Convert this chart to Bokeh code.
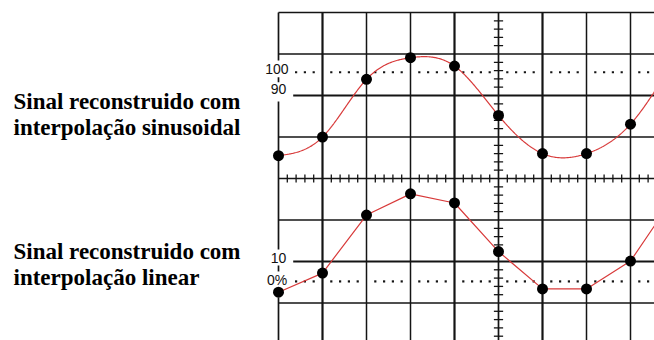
import numpy as np
from bokeh.plotting import figure
from bokeh.models import Range1d
from bokeh.embed import file_html
from bokeh.resources import INLINE
from bokeh.core.properties import value

# Sampling instants, in horizontal divisions from the screen centre
sample_div = [-5, -4, -3, -2, -1, 0, 1, 2, 3, 4]
# Upper trace: samples reconstructed with sinusoidal interpolation (vertical divisions)
sin_trace = [0.55, 1.00, 2.39, 2.91, 2.71, 1.52, 0.60, 0.60, 1.31, 2.88]
# Lower trace: same samples joined by straight segments (vertical divisions)
lin_trace = [-2.74, -2.28, -0.88, -0.37, -0.59, -1.76, -2.66, -2.66, -1.99, -0.43]

# Rise-time reference levels of the graticule and their labels
level_labels = ["100", "90", "10", "0%"]
level_div = [2.56, 2.0, -2.0, -2.48]

trace_titles = [
    ["Sinal reconstruido com", "interpolação sinusoidal"],
    ["Sinal reconstruido com", "interpolação linear"],
]

PX_X = 44.0   # pixels per horizontal division
PX_Y = 41.5   # pixels per vertical division
W, H = 654, 340
X0, Y0 = 498, 178  # screen centre in pixels

x_lo, x_hi = -X0 / PX_X, (W - X0) / PX_X
y_lo, y_hi = -(H - Y0) / PX_Y, Y0 / PX_Y

p = figure(width=W, height=H, x_range=Range1d(x_lo, x_hi), y_range=Range1d(y_lo, y_hi),
           output_backend="svg", toolbar_location=None, min_border=0,
           x_axis_type=None, y_axis_type=None)
p.grid.visible = False
p.outline_line_color = None
p.background_fill_color = "white"
p.border_fill_color = "white"

INK = "#141414"
top = 4.0

# vertical graticule lines
vx = [-4, -3, -2, -1, 0, 1, 2, 3]
vw = [2.2, 1.5, 1.5, 2.2, 1.7, 2.2, 1.5, 1.5]
p.segment(x0=vx, y0=[y_lo] * len(vx), x1=vx, y1=[top] * len(vx),
          line_color=INK, line_width=vw)

# left border, interrupted by the level labels
lb_y0 = [top, 2.441, 1.855, -2.096, -2.867]
lb_y1 = [2.843, 2.32, -1.711, -2.24, y_lo]
p.segment(x0=[-5] * 5, y0=lb_y0, x1=[-5] * 5, y1=lb_y1, line_color=INK, line_width=1.7)

# horizontal graticule lines
hy = [4, 3, 2, 1, 0, -1, -2, -3]
hx0 = [-5, -5, -4.666, -5, -5, -5, -4.666, -5]
hw = [1.7, 1.5, 2.2, 1.5, 1.7, 1.5, 2.2, 1.5]
p.segment(x0=hx0, y0=hy, x1=[x_hi] * len(hy), y1=hy, line_color=INK, line_width=hw)

# minor ticks on the centre axes
tx = [k * 0.2 for k in range(-25, 18) if k % 5 != 0]
p.segment(x0=tx, y0=[-0.096] * len(tx), x1=tx, y1=[0.096] * len(tx),
          line_color=INK, line_width=1.3)
ty = [k * 0.2 for k in range(-19, 20) if k % 5 != 0]
p.segment(x0=[-0.105] * len(ty), y0=ty, x1=[0.105] * len(ty), y1=ty,
          line_color=INK, line_width=1.3)

# dotted 0% / 100% reference lines
for lvl, start in ((level_div[0], -4.6), (level_div[3], -4.6)):
    dx = [k * 0.2 for k in range(int(round(start / 0.2)), 18) if k % 5 != 0]
    p.scatter(dx, [lvl] * len(dx), marker="square", size=2.2,
              fill_color=INK, line_color=None)

# level labels
lab_dy = [0.07, 0.145, 0.084, 0.046]
lab_x = [-4.773, -4.825, -4.825, -4.802]
p.text(x=lab_x, y=[l + d for l, d in zip(level_div, lab_dy)], text=level_labels,
       text_align="right", text_baseline="middle", text_font=value("Liberation Sans"),
       text_font_size="14px", text_color="#111111")


def natural_spline(xs, ys, xq):
    xs = np.asarray(xs, float)
    ys = np.asarray(ys, float)
    n = len(xs)
    h = np.diff(xs)
    A = np.zeros((n, n))
    b = np.zeros(n)
    A[0, 0] = A[-1, -1] = 1.0
    for i in range(1, n - 1):
        A[i, i - 1] = h[i - 1]
        A[i, i] = 2 * (h[i - 1] + h[i])
        A[i, i + 1] = h[i]
        b[i] = 3 * ((ys[i + 1] - ys[i]) / h[i] - (ys[i] - ys[i - 1]) / h[i - 1])
    c = np.linalg.solve(A, b)
    bc = (ys[1:] - ys[:-1]) / h - h * (2 * c[:-1] + c[1:]) / 3
    d = (c[1:] - c[:-1]) / (3 * h)
    idx = np.clip(np.searchsorted(xs, xq) - 1, 0, n - 2)
    t = xq - xs[idx]
    return ys[idx] + bc[idx] * t + c[idx] * t ** 2 + d[idx] * t ** 3


RED = "#d83a3a"
xs_dense = np.linspace(sample_div[0], sample_div[-1], 500)
p.line(xs_dense, natural_spline(sample_div, sin_trace, xs_dense), line_color=RED, line_width=1.2)
p.line(sample_div, lin_trace, line_color=RED, line_width=1.2)

p.scatter(sample_div, sin_trace, size=11, fill_color="black", line_color=None)
p.scatter(sample_div, lin_trace, size=11, fill_color="black", line_color=None)

# trace captions on the left
cap_x = (13 - X0) / PX_X
cap_base = [[(Y0 - 101) / PX_Y, (Y0 - 127) / PX_Y], [(Y0 - 251) / PX_Y, (Y0 - 277) / PX_Y]]
for lines, ys in zip(trace_titles, cap_base):
    p.text(x=[cap_x, cap_x], y=ys, text=lines, text_align="left", text_baseline="alphabetic",
           text_font=value("Liberation Serif"), text_font_style="bold",
           text_font_size="23px", text_color="black")

open("out.html", "w").write(file_html(p, INLINE))
